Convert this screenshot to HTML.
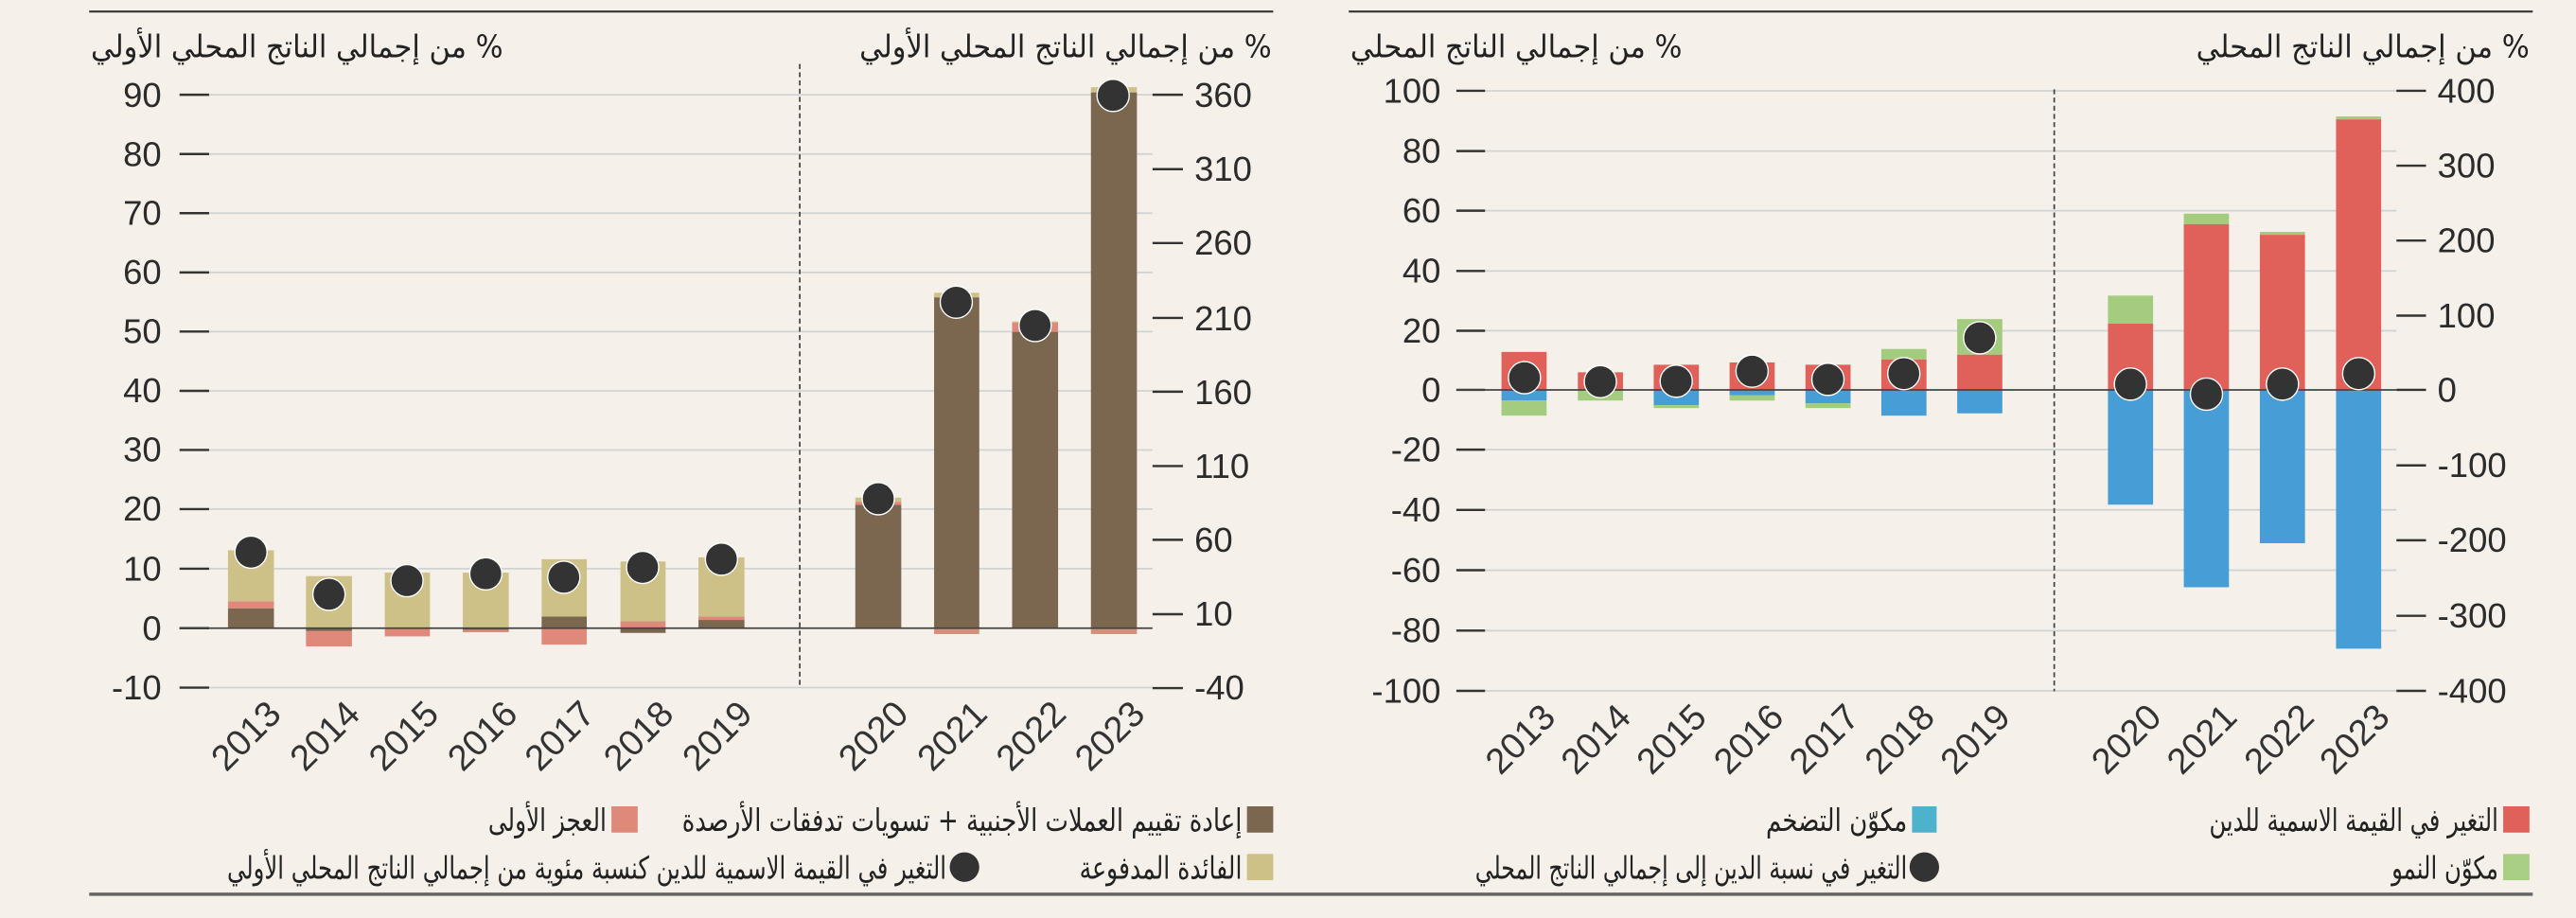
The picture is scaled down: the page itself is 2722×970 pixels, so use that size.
<!DOCTYPE html>
<html><head><meta charset="utf-8"><style>
html,body{margin:0;padding:0;background:#f5f1ea;}
svg{display:block;}
.t{font-family:"Liberation Sans Narrow","Liberation Sans",sans-serif;font-size:21px;fill:#2b2b2b;}
.y{font-family:"Liberation Sans Narrow","Liberation Sans",sans-serif;font-size:22px;fill:#333;}
.a{font-family:"DejaVu Sans",sans-serif;font-size:19px;fill:#222;}
.g{stroke:#cfd3d3;stroke-width:1;}
.k{stroke:#333;stroke-width:1.4;}
.d{fill:#333;stroke:#fff;stroke-width:0.8;}
</style></head><body>
<svg width="2722" height="970" viewBox="0 0 1568 559" xmlns="http://www.w3.org/2000/svg">
<rect width="1568" height="559" fill="#f5f1ea"/>
<line x1="54" y1="7" x2="775" y2="7" stroke="#333" stroke-width="1.2"/>
<line x1="821" y1="7" x2="1542" y2="7" stroke="#333" stroke-width="1.2"/>
<line x1="54" y1="544.5" x2="1542" y2="544.5" stroke="#666" stroke-width="2"/>

<text class="a" x="306" y="35" text-anchor="start" textLength="251" lengthAdjust="spacingAndGlyphs" direction="rtl">% من إجمالي الناتج المحلي الأولي</text>
<text class="a" x="774" y="35" text-anchor="start" textLength="251" lengthAdjust="spacingAndGlyphs" direction="rtl">% من إجمالي الناتج المحلي الأولي</text>
<g>
<line class="g" x1="127" x2="701.5" y1="57.7" y2="57.7"/>
<line class="g" x1="127" x2="701.5" y1="93.8" y2="93.8"/>
<line class="g" x1="127" x2="701.5" y1="129.8" y2="129.8"/>
<line class="g" x1="127" x2="701.5" y1="165.9" y2="165.9"/>
<line class="g" x1="127" x2="701.5" y1="201.9" y2="201.9"/>
<line class="g" x1="127" x2="701.5" y1="238" y2="238"/>
<line class="g" x1="127" x2="701.5" y1="274" y2="274"/>
<line class="g" x1="127" x2="701.5" y1="310" y2="310"/>
<line class="g" x1="127" x2="701.5" y1="346.3" y2="346.3"/>
<line class="g" x1="127" x2="701.5" y1="418.7" y2="418.7"/>
</g>
<g class="k">
<line x1="109" x2="127" y1="57.7" y2="57.7"/><line x1="109" x2="127" y1="93.8" y2="93.8"/>
<line x1="109" x2="127" y1="129.8" y2="129.8"/><line x1="109" x2="127" y1="165.9" y2="165.9"/>
<line x1="109" x2="127" y1="201.9" y2="201.9"/><line x1="109" x2="127" y1="238" y2="238"/>
<line x1="109" x2="127" y1="274" y2="274"/><line x1="109" x2="127" y1="310" y2="310"/>
<line x1="109" x2="127" y1="346.3" y2="346.3"/><line x1="109" x2="127" y1="382.5" y2="382.5"/>
<line x1="109" x2="127" y1="418.7" y2="418.7"/>
<line x1="701.5" x2="720" y1="57.7" y2="57.7"/><line x1="701.5" x2="720" y1="103" y2="103"/>
<line x1="701.5" x2="720" y1="148" y2="148"/><line x1="701.5" x2="720" y1="193.6" y2="193.6"/>
<line x1="701.5" x2="720" y1="238.5" y2="238.5"/><line x1="701.5" x2="720" y1="283.8" y2="283.8"/>
<line x1="701.5" x2="720" y1="328.7" y2="328.7"/><line x1="701.5" x2="720" y1="374" y2="374"/>
<line x1="701.5" x2="720" y1="419" y2="419"/>
</g>
<g class="t" text-anchor="end">
<text x="98" y="65">90</text><text x="98" y="101">80</text><text x="98" y="137">70</text>
<text x="98" y="173">60</text><text x="98" y="209">50</text><text x="98" y="245">40</text>
<text x="98" y="281">30</text><text x="98" y="317">20</text><text x="98" y="353.5">10</text>
<text x="98" y="390">0</text><text x="98" y="426">-10</text>
</g>
<g class="t">
<text x="727" y="65">360</text><text x="727" y="110">310</text><text x="727" y="155">260</text>
<text x="727" y="201">210</text><text x="727" y="246">160</text><text x="727" y="291">110</text>
<text x="727" y="336">60</text><text x="727" y="381">10</text><text x="727" y="426">-40</text>
</g>
<line x1="486.7" y1="39" x2="486.7" y2="419" stroke="#444" stroke-width="1" stroke-dasharray="3,2"/>
<g>
<rect x="138.5" y="370.4" width="28" height="12.1" fill="#7b6650"/><rect x="138.5" y="366.1" width="28" height="4.3" fill="#df897a"/><rect x="138.5" y="335.1" width="28" height="31" fill="#cdc188"/>
<rect x="186" y="382.5" width="28" height="1.8" fill="#7b6650"/><rect x="186" y="384.3" width="28" height="9.3" fill="#df897a"/><rect x="186" y="350.8" width="28" height="31.7" fill="#cdc188"/>
<rect x="234" y="382.5" width="27.5" height="5" fill="#df897a"/><rect x="234" y="348.7" width="27.5" height="33.8" fill="#cdc188"/>
<rect x="281.5" y="382.5" width="28" height="1.1" fill="#7b6650"/><rect x="281.5" y="383.6" width="28" height="1.4" fill="#df897a"/><rect x="281.5" y="348.7" width="28" height="33.8" fill="#cdc188"/>
<rect x="329.5" y="375.4" width="27.5" height="7.1" fill="#7b6650"/><rect x="329.5" y="340.5" width="27.5" height="34.9" fill="#cdc188"/><rect x="329.5" y="382.5" width="27.5" height="10" fill="#df897a"/>
<rect x="377.5" y="382.5" width="27.5" height="2.9" fill="#7b6650"/><rect x="377.5" y="378.3" width="27.5" height="4.2" fill="#df897a"/><rect x="377.5" y="341.9" width="27.5" height="36.4" fill="#cdc188"/>
<rect x="425" y="377.5" width="28" height="5" fill="#7b6650"/><rect x="425" y="375.4" width="28" height="2.1" fill="#df897a"/><rect x="425" y="339.4" width="28" height="36" fill="#cdc188"/>
<rect x="520.5" y="307.3" width="28" height="75.2" fill="#7b6650"/><rect x="520.5" y="305.5" width="28" height="1.8" fill="#df897a"/><rect x="520.5" y="303" width="28" height="2.5" fill="#cdc188"/>
<rect x="568.5" y="178.3" width="27.5" height="2.8" fill="#cdc188"/><rect x="568.5" y="181.1" width="27.5" height="201.4" fill="#7b6650"/><rect x="568.5" y="382.5" width="27.5" height="3.6" fill="#df897a"/>
<rect x="616" y="195.7" width="28" height="0.7" fill="#cdc188"/><rect x="616" y="196.4" width="28" height="5.7" fill="#df897a"/><rect x="616" y="202.1" width="28" height="180.4" fill="#7b6650"/>
<rect x="664" y="53.1" width="28" height="3.2" fill="#cdc188"/><rect x="664" y="56.3" width="28" height="326.2" fill="#7b6650"/><rect x="664" y="382.5" width="28" height="3.6" fill="#df897a"/>
</g>
<line x1="109" x2="701.5" y1="382.5" y2="382.5" stroke="#444" stroke-width="1"/>
<g class="d">
<circle cx="152.5" cy="336.2" r="9.8"/><circle cx="200" cy="361.9" r="9.8"/><circle cx="247.5" cy="353.6" r="9.8"/>
<circle cx="295.5" cy="349.4" r="9.8"/><circle cx="343" cy="351.5" r="9.8"/><circle cx="391" cy="345.5" r="9.8"/>
<circle cx="439" cy="340.5" r="9.8"/><circle cx="534.5" cy="303.7" r="9.8"/><circle cx="582" cy="184" r="9.8"/>
<circle cx="630" cy="198.2" r="9.8"/><circle cx="677.5" cy="58.1" r="9.8"/>
</g>
<g class="y" text-anchor="end">
<text transform="translate(172,436) rotate(-45)">2013</text>
<text transform="translate(220,436) rotate(-45)">2014</text>
<text transform="translate(268,436) rotate(-45)">2015</text>
<text transform="translate(316,436) rotate(-45)">2016</text>
<text transform="translate(363,436) rotate(-45)">2017</text>
<text transform="translate(411,436) rotate(-45)">2018</text>
<text transform="translate(459,436) rotate(-45)">2019</text>
<text transform="translate(554,436) rotate(-45)">2020</text>
<text transform="translate(602,436) rotate(-45)">2021</text>
<text transform="translate(650,436) rotate(-45)">2022</text>
<text transform="translate(698,436) rotate(-45)">2023</text>
</g>
<rect x="759" y="491" width="16" height="16" fill="#7b6650"/>
<text class="a" x="756" y="506" text-anchor="start" textLength="341" lengthAdjust="spacingAndGlyphs" direction="rtl">إعادة تقييم العملات الأجنبية + تسويات تدفقات الأرصدة</text>
<rect x="372" y="491" width="16" height="16" fill="#df897a"/>
<text class="a" x="369" y="506" text-anchor="start" textLength="72" lengthAdjust="spacingAndGlyphs" direction="rtl">العجز الأولى</text>
<rect x="759" y="520" width="16" height="16" fill="#cdc188"/>
<text class="a" x="756" y="535" text-anchor="start" textLength="99" lengthAdjust="spacingAndGlyphs" direction="rtl">الفائدة المدفوعة</text>
<circle cx="587" cy="528" r="9" fill="#333"/>
<text class="a" x="576" y="535" text-anchor="start" textLength="438" lengthAdjust="spacingAndGlyphs" direction="rtl">التغير في القيمة الاسمية للدين كنسبة مئوية من إجمالي الناتج المحلي الأولي</text>

<text class="a" x="1024" y="35" text-anchor="start" textLength="202" lengthAdjust="spacingAndGlyphs" direction="rtl">% من إجمالي الناتج المحلي</text>
<text class="a" x="1540" y="35" text-anchor="start" textLength="203" lengthAdjust="spacingAndGlyphs" direction="rtl">% من إجمالي الناتج المحلي</text>
<g>
<line class="g" x1="904" x2="1459" y1="55.3" y2="55.3"/><line class="g" x1="904" x2="1459" y1="92" y2="92"/>
<line class="g" x1="904" x2="1459" y1="128.3" y2="128.3"/><line class="g" x1="904" x2="1459" y1="165" y2="165"/>
<line class="g" x1="904" x2="1459" y1="201.4" y2="201.4"/><line class="g" x1="904" x2="1459" y1="273.8" y2="273.8"/>
<line class="g" x1="904" x2="1459" y1="310.5" y2="310.5"/><line class="g" x1="904" x2="1459" y1="347.2" y2="347.2"/>
<line class="g" x1="904" x2="1459" y1="384" y2="384"/><line class="g" x1="904" x2="1459" y1="420.7" y2="420.7"/>
</g>
<g class="k">
<line x1="886.5" x2="904" y1="55.3" y2="55.3"/><line x1="886.5" x2="904" y1="92" y2="92"/>
<line x1="886.5" x2="904" y1="128.3" y2="128.3"/><line x1="886.5" x2="904" y1="165" y2="165"/>
<line x1="886.5" x2="904" y1="201.4" y2="201.4"/><line x1="886.5" x2="904" y1="237.4" y2="237.4"/>
<line x1="886.5" x2="904" y1="273.8" y2="273.8"/><line x1="886.5" x2="904" y1="310.5" y2="310.5"/>
<line x1="886.5" x2="904" y1="347.2" y2="347.2"/><line x1="886.5" x2="904" y1="384" y2="384"/>
<line x1="886.5" x2="904" y1="420.7" y2="420.7"/>
<line x1="1459" x2="1477" y1="55.3" y2="55.3"/><line x1="1459" x2="1477" y1="100.9" y2="100.9"/>
<line x1="1459" x2="1477" y1="146.5" y2="146.5"/><line x1="1459" x2="1477" y1="192.2" y2="192.2"/>
<line x1="1459" x2="1477" y1="237.4" y2="237.4"/><line x1="1459" x2="1477" y1="283.4" y2="283.4"/>
<line x1="1459" x2="1477" y1="329" y2="329"/><line x1="1459" x2="1477" y1="375" y2="375"/>
<line x1="1459" x2="1477" y1="420.7" y2="420.7"/>
</g>
<g class="t" text-anchor="end">
<text x="877" y="62.5">100</text><text x="877" y="99">80</text><text x="877" y="135.5">60</text>
<text x="877" y="172">40</text><text x="877" y="208.5">20</text><text x="877" y="244.5">0</text>
<text x="877" y="281">-20</text><text x="877" y="317.5">-40</text><text x="877" y="354.5">-60</text>
<text x="877" y="391">-80</text><text x="877" y="428">-100</text>
</g>
<g class="t">
<text x="1484" y="62.5">400</text><text x="1484" y="108">300</text><text x="1484" y="153.5">200</text>
<text x="1484" y="199.5">100</text><text x="1484" y="244.5">0</text><text x="1484" y="290.5">-100</text>
<text x="1484" y="336">-200</text><text x="1484" y="382">-300</text><text x="1484" y="428">-400</text>
</g>
<line x1="1250.6" y1="54.4" x2="1250.6" y2="421" stroke="#444" stroke-width="1" stroke-dasharray="3,2"/>
<g>
<rect x="914" y="214.3" width="27.5" height="23.1" fill="#e0605a"/><rect x="914" y="237.4" width="27.5" height="6.5" fill="#479ed7"/><rect x="914" y="243.9" width="27.5" height="9.2" fill="#a3cc7f"/>
<rect x="960.5" y="226.7" width="27.5" height="10.7" fill="#e0605a"/><rect x="960.5" y="237.4" width="27.5" height="6.5" fill="#a3cc7f"/>
<rect x="1006.7" y="222.1" width="27.5" height="15.3" fill="#e0605a"/><rect x="1006.7" y="237.4" width="27.5" height="9.3" fill="#479ed7"/><rect x="1006.7" y="246.7" width="27.5" height="1.8" fill="#a3cc7f"/>
<rect x="1052.9" y="220.7" width="27.5" height="16.7" fill="#e0605a"/><rect x="1052.9" y="237.4" width="27.5" height="3.2" fill="#479ed7"/><rect x="1052.9" y="240.6" width="27.5" height="3.3" fill="#a3cc7f"/>
<rect x="1099.1" y="222.1" width="27.5" height="15.3" fill="#e0605a"/><rect x="1099.1" y="237.4" width="27.5" height="8.2" fill="#479ed7"/><rect x="1099.1" y="245.6" width="27.5" height="2.9" fill="#a3cc7f"/>
<rect x="1145.3" y="212.5" width="27.5" height="6.4" fill="#a3cc7f"/><rect x="1145.3" y="218.9" width="27.5" height="18.5" fill="#e0605a"/><rect x="1145.3" y="237.4" width="27.5" height="15.7" fill="#479ed7"/>
<rect x="1191.5" y="194.3" width="27.5" height="21.7" fill="#a3cc7f"/><rect x="1191.5" y="216" width="27.5" height="21.4" fill="#e0605a"/><rect x="1191.5" y="237.4" width="27.5" height="14.3" fill="#479ed7"/>
<rect x="1283.3" y="180" width="27.5" height="17.1" fill="#a3cc7f"/><rect x="1283.3" y="197.1" width="27.5" height="40.3" fill="#e0605a"/><rect x="1283.3" y="237.4" width="27.5" height="69.9" fill="#479ed7"/>
<rect x="1329.5" y="130.1" width="27.5" height="6.4" fill="#a3cc7f"/><rect x="1329.5" y="136.5" width="27.5" height="100.9" fill="#e0605a"/><rect x="1329.5" y="237.4" width="27.5" height="120.2" fill="#479ed7"/>
<rect x="1375.8" y="141.2" width="27.5" height="1.8" fill="#a3cc7f"/><rect x="1375.8" y="143" width="27.5" height="94.4" fill="#e0605a"/><rect x="1375.8" y="237.4" width="27.5" height="93.4" fill="#479ed7"/>
<rect x="1422.2" y="70.9" width="27.5" height="1.8" fill="#a3cc7f"/><rect x="1422.2" y="72.7" width="27.5" height="164.7" fill="#e0605a"/><rect x="1422.2" y="237.4" width="27.5" height="157.6" fill="#479ed7"/>
</g>
<line x1="886.5" x2="1459" y1="237.4" y2="237.4" stroke="#444" stroke-width="1"/>
<g class="d">
<circle cx="928" cy="230" r="9.8"/><circle cx="974.2" cy="232.4" r="9.8"/><circle cx="1020.4" cy="232.1" r="9.8"/>
<circle cx="1066.6" cy="226" r="9.8"/><circle cx="1112.8" cy="231" r="9.8"/><circle cx="1159" cy="227.5" r="9.8"/>
<circle cx="1205.2" cy="205.7" r="9.8"/><circle cx="1297" cy="233.9" r="9.8"/><circle cx="1343.3" cy="240" r="9.8"/>
<circle cx="1389.6" cy="233.9" r="9.8"/><circle cx="1436" cy="227.5" r="9.8"/>
</g>
<g class="y" text-anchor="end">
<text transform="translate(948,438) rotate(-45)">2013</text>
<text transform="translate(994,438) rotate(-45)">2014</text>
<text transform="translate(1040,438) rotate(-45)">2015</text>
<text transform="translate(1087,438) rotate(-45)">2016</text>
<text transform="translate(1133,438) rotate(-45)">2017</text>
<text transform="translate(1179,438) rotate(-45)">2018</text>
<text transform="translate(1225,438) rotate(-45)">2019</text>
<text transform="translate(1317,438) rotate(-45)">2020</text>
<text transform="translate(1363,438) rotate(-45)">2021</text>
<text transform="translate(1410,438) rotate(-45)">2022</text>
<text transform="translate(1456,438) rotate(-45)">2023</text>
</g>
<rect x="1524" y="491" width="16" height="16" fill="#e0605a"/>
<text class="a" x="1521" y="506" text-anchor="start" textLength="176" lengthAdjust="spacingAndGlyphs" direction="rtl">التغير في القيمة الاسمية للدين</text>
<rect x="1164" y="491" width="15" height="16" fill="#4db3cc"/>
<text class="a" x="1161" y="506" text-anchor="start" textLength="86" lengthAdjust="spacingAndGlyphs" direction="rtl">مكوّن التضخم</text>
<rect x="1524" y="520" width="16" height="16" fill="#a8cf85"/>
<text class="a" x="1521" y="535" text-anchor="start" textLength="65" lengthAdjust="spacingAndGlyphs" direction="rtl">مكوّن النمو</text>
<circle cx="1171.5" cy="528" r="9" fill="#333"/>
<text class="a" x="1161" y="535" text-anchor="start" textLength="263" lengthAdjust="spacingAndGlyphs" direction="rtl">التغير في نسبة الدين إلى إجمالي الناتج المحلي</text>
</svg>
</body></html>
